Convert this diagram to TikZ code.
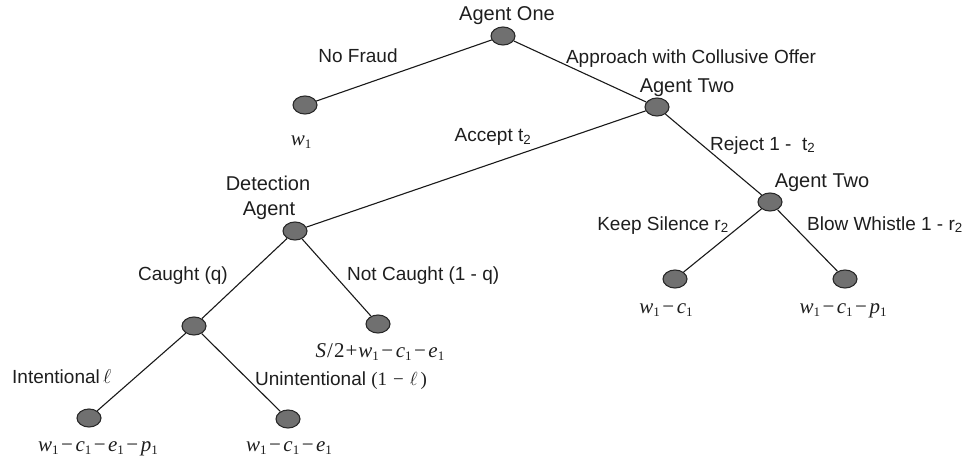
\RequirePackage{fix-cm}
\documentclass[tikz,border=0pt]{standalone}
\usepackage{fontspec}
\setmainfont{Liberation Sans}
\newfontfamily\tms{Liberation Serif}
\usetikzlibrary{shapes.geometric}
\newcommand\sbx[1]{\raisebox{-0.35ex}{\fontsize{13}{13}\selectfont\upshape #1}}
\newcommand\mv[2]{\textit{#1}\sbx{#2}}
\newcommand\mmin{\hspace{2.5pt}−\hspace{2.5pt}}
\begin{document}
\begin{tikzpicture}[x=1pt,y=-1pt,
  nd/.style={ellipse,draw={rgb,255:red,40;green,40;blue,40},line width=1.1pt,
     fill={rgb,255:red,112;green,112;blue,112},minimum width=24pt,minimum height=18pt,inner sep=0pt},
  br/.style={line width=1.1pt,draw={rgb,255:red,25;green,25;blue,25}},
  lb/.style={inner sep=0pt,font=\fontsize{19}{22}\selectfont,text={rgb,255:red,30;green,30;blue,30}},
  tt/.style={inner sep=0pt,font=\fontsize{20}{23}\selectfont,text={rgb,255:red,30;green,30;blue,30}},
  py/.style={inner sep=0pt,font=\fontsize{21}{24}\selectfont\tms,text={rgb,255:red,30;green,30;blue,30}}
]
\useasboundingbox (0,0) rectangle (963,468);
% nodes
\node[nd] (root) at (503,36) {};
\node[nd] (nf) at (305,105) {};
\node[nd] (a2) at (657,107) {};
\node[nd] (det) at (295,231) {};
\node[nd] (a2b) at (770,202) {};
\node[nd] (ks) at (675,279) {};
\node[nd] (bw) at (845,279) {};
\node[nd] (cg) at (194,326) {};
\node[nd] (nc) at (378,324) {};
\node[nd] (in) at (89,418) {};
\node[nd] (un) at (288,419) {};
% branches
\draw[br] (root) -- (nf);
\draw[br] (root) -- (a2);
\draw[br] (a2) -- (det);
\draw[br] (a2) -- (a2b);
\draw[br] (a2b) -- (ks);
\draw[br] (a2b) -- (bw);
\draw[br] (det) -- (cg);
\draw[br] (det) -- (nc);
\draw[br] (cg) -- (in);
\draw[br] (cg) -- (un);
% titles
\node[tt,anchor=base] (t1) at (507,21) {Agent One};
\node[tt,anchor=base] (t2) at (687,93) {Agent Two};
\node[tt,anchor=base] (t3) at (822,187) {Agent Two};
\node[tt,anchor=base] (t4) at (268,190) {Detection};
\node[tt,anchor=base] (t5) at (269,215) {Agent};
% branch labels
\node[lb,anchor=base] (l1) at (358,63) {No Fraud};
\node[lb,anchor=base] (l2) at (691,64) {Approach with Collusive Offer};
\node[lb,anchor=base] (l3) at (493,142) {Accept t\textsubscript{2}};
\node[lb,anchor=base west] (l4) at (710,150) {Reject 1 -\ \ t\textsubscript{2}};
\node[lb,anchor=base] (l5) at (663,230) {Keep Silence r\textsubscript{2}};
\node[lb,anchor=base east] (l6) at (963,230) {Blow Whistle 1 - r\textsubscript{2}};
\node[lb,anchor=base east] (l7) at (228,280) {Caught (q)};
\node[lb,anchor=base west] (l8) at (347,280) {Not Caught (1 - q)};
\node[lb,anchor=base west] (l9) at (12,383) {Intentional\,{\fontsize{20}{24}\selectfont$\ell$}};
\node[lb,anchor=base west] (l10) at (255,385) {Unintentional\ {\tms\fontsize{19}{22}\selectfont (1\hspace{6pt}−\hspace{6pt}$\ell$\hspace{3pt})}};
% payoffs
\node[py,anchor=base] (p0) at (301,145) {\mv{w}{1}};
\node[py,anchor=base] (p1) at (666,313) {\mv{w}{1}\mmin\mv{c}{1}};
\node[py,anchor=base] (p2) at (843,313) {\mv{w}{1}\mmin\mv{c}{1}\mmin\mv{p}{1}};
\node[py,anchor=base] (p3) at (380,357) {\textit{S}\hspace{1pt}/\hspace{1pt}2\hspace{1pt}+\hspace{1pt}\mv{w}{1}\mmin\mv{c}{1}\mmin\mv{e}{1}};
\node[py,anchor=base] (p4) at (98,451) {\mv{w}{1}\mmin\mv{c}{1}\mmin\mv{e}{1}\mmin\mv{p}{1}};
\node[py,anchor=base] (p5) at (289,451) {\mv{w}{1}\mmin\mv{c}{1}\mmin\mv{e}{1}};
\end{tikzpicture}
\end{document}
